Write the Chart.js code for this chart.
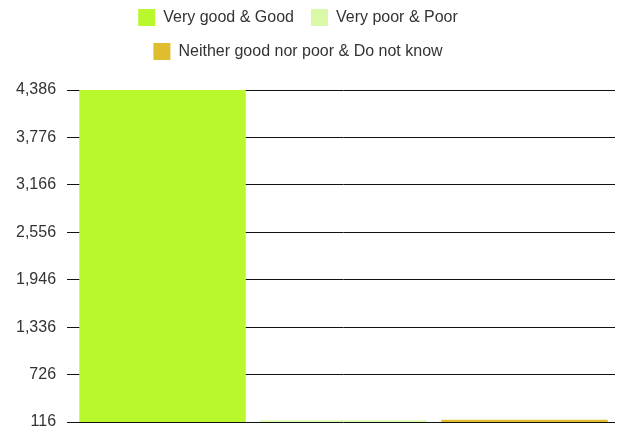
<!DOCTYPE html>
<html>
<head>
<meta charset="utf-8">
<script src="https://cdn.jsdelivr.net/npm/chart.js@4/dist/chart.umd.min.js"></script>
<style>
html,body{margin:0;padding:0;background:#fff;}
#wrap{width:618px;height:433px;position:relative;}
</style>
</head>
<body>
<div id="wrap"><canvas id="c"></canvas></div>
<script>
const categories = [''];
const seriesNames = ['Very good & Good', 'Very poor & Poor', 'Neither good nor poor & Do not know'];
const veryGoodGood = [4386];
const veryPoorPoor = [135];
const neitherDoNotKnow = [145];
const yMin = 116;
const yMax = 4386;
const yStep = 610;

const colors = ['#b9f82c', '#d9f9a6', '#dfbe2e'];

const legendSpacer = {
  id: 'legendSpacer',
  beforeInit(chart) {
    const orig = chart.legend.fit;
    chart.legend.fit = function () {
      orig.call(this);
      this.height += 20;
    };
  },
  afterLayout(chart) {
    chart.legend.left -= 12;
    chart.legend.right -= 12;
  }
};

new Chart(document.getElementById('c'), {
  type: 'bar',
  data: {
    labels: categories,
    datasets: [
      { label: seriesNames[0], data: veryGoodGood, backgroundColor: colors[0] },
      { label: seriesNames[1], data: veryPoorPoor, backgroundColor: colors[1] },
      { label: seriesNames[2], data: neitherDoNotKnow, backgroundColor: colors[2] }
    ]
  },
  options: {
    responsive: true,
    maintainAspectRatio: false,
    animation: false,
    layout: { padding: { top: -8, left: 5, right: 3, bottom: 0 } },
    datasets: { bar: { barPercentage: 0.92, categoryPercentage: 1.0 } },
    plugins: {
      legend: {
        position: 'top',
        labels: {
          boxWidth: 17,
          boxHeight: 17,
          padding: 17,
          color: '#333',
          font: { family: '"Liberation Sans", Arial, sans-serif', size: 16 }
        }
      },
      tooltip: { enabled: false }
    },
    scales: {
      x: { display: false },
      y: {
        min: yMin,
        max: yMax,
        border: { display: false },
        grid: { color: '#111', lineWidth: 1, tickLength: 5, drawTicks: true },
        ticks: {
          stepSize: yStep,
          padding: 11,
          color: '#333',
          font: { family: '"Liberation Sans", Arial, sans-serif', size: 16 }
        },
        afterFit(scale) {
          scale.paddingBottom = 11;
        }
      }
    }
  },
  plugins: [legendSpacer]
});
</script>
</body>
</html>
